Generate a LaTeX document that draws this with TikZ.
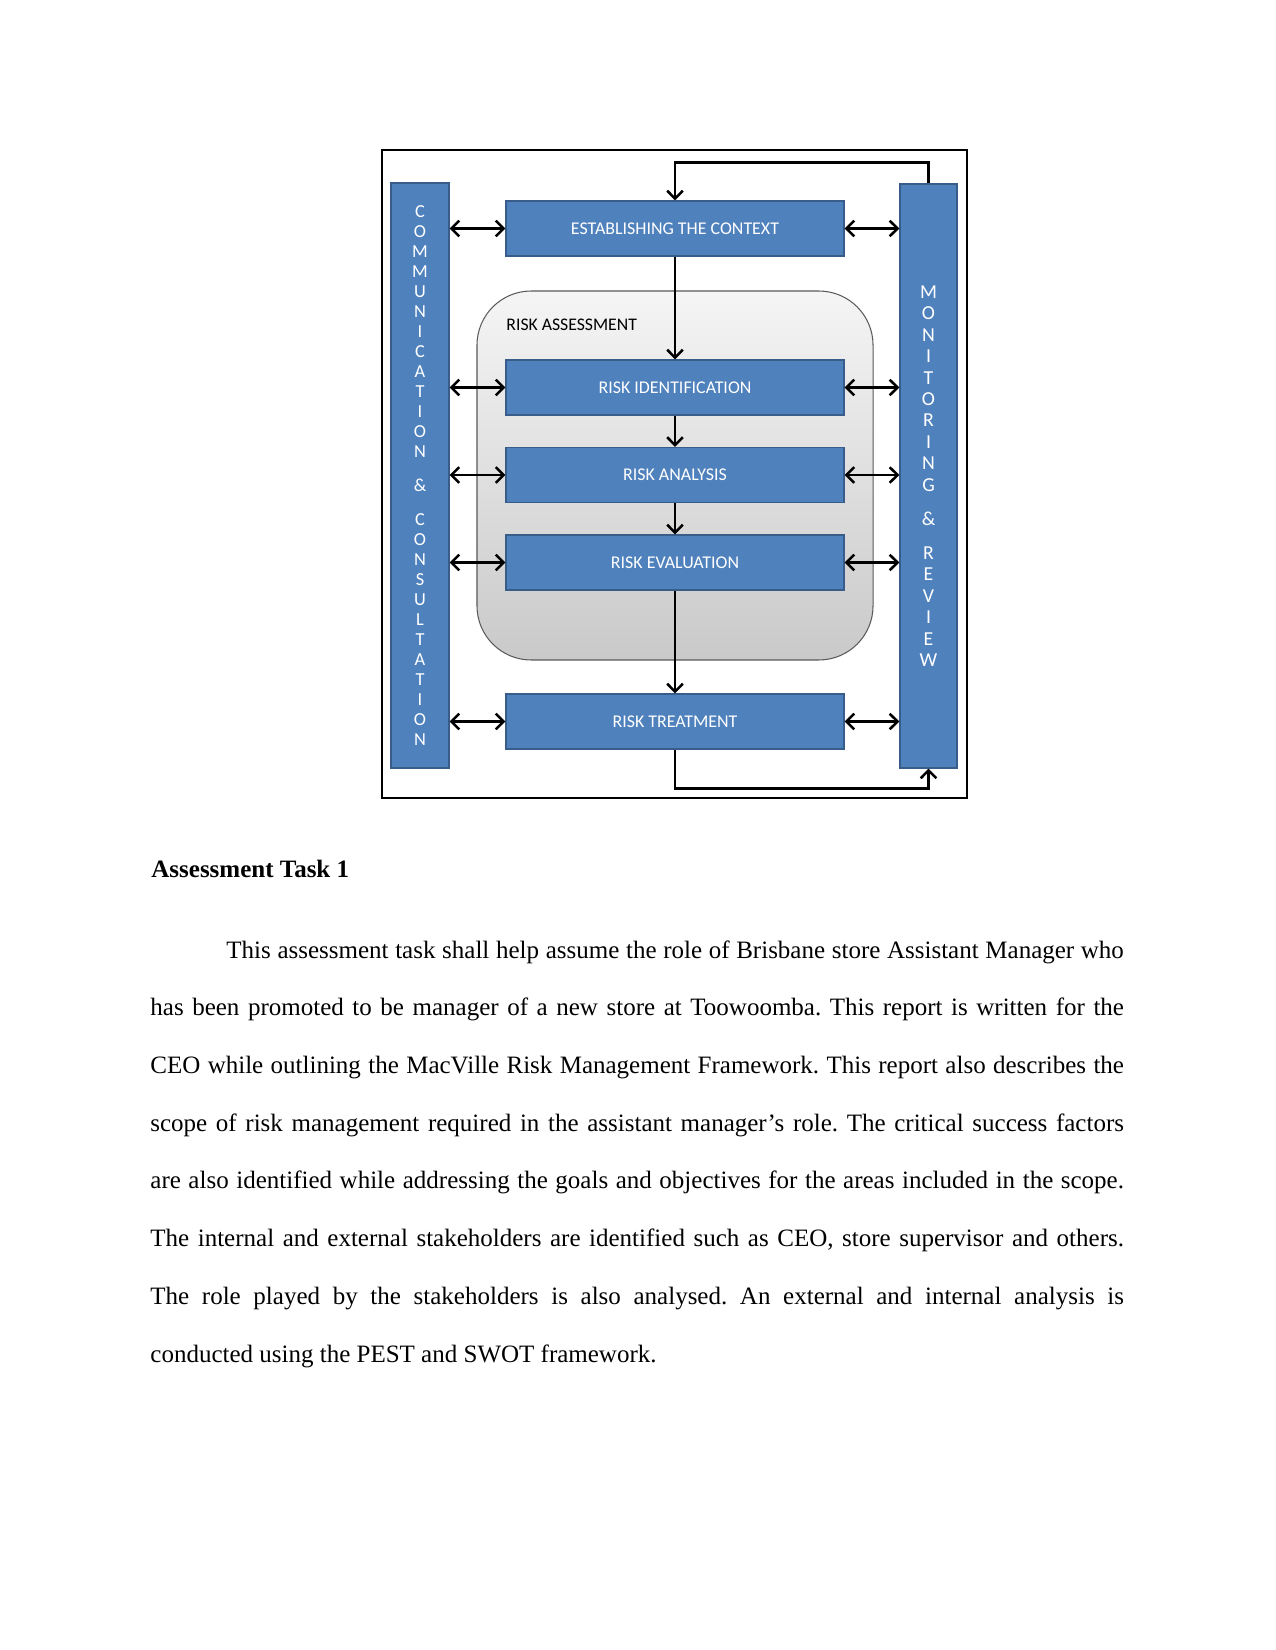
\documentclass[tikz,border=0pt]{standalone}
\usepackage{fontspec}
\setmainfont{Liberation Serif}
\newfontfamily\calib{Carlito}
\usetikzlibrary{arrows.meta}
\definecolor{bfill}{HTML}{4F81BD}
\definecolor{bdraw}{HTML}{385D8A}
\frenchspacing
\begin{document}
\begin{tikzpicture}[x=0.48pt,y=-0.48pt,
  bluebox/.style={draw=bdraw, fill=bfill, line width=0.6pt, text=white,
    font=\calib\fontsize{8.6}{11}\selectfont, minimum width=162.2pt, minimum height=26.4pt, inner sep=0pt},
  bar/.style={draw=bdraw, fill=bfill, line width=0.6pt, text=white, inner sep=0pt, align=center},
  arr/.style={line width=1.2pt, -{Straight Barb[length=3.8pt,width=7.5pt]}},
  dbl/.style={line width=1.2pt, {Straight Barb[length=3.8pt,width=7.5pt]}-{Straight Barb[length=3.8pt,width=7.5pt]}},
  bodyline/.style={anchor=base west, inner sep=0pt, font=\fontsize{12}{14}\selectfont}
]
\useasboundingbox (0,0) rectangle (1275,1650);
\fill[white] (0,0) rectangle (1275,1650);

% frame
\node[draw, line width=0.7pt, minimum width=280.8pt, minimum height=311pt, inner sep=0pt] (frame) at (674.5,474) {};

% risk assessment container
\node[draw=gray!70!black, line width=0.5pt, rounded corners=26pt, top color=gray!8, bottom color=gray!42,
  minimum width=190.1pt, minimum height=177.1pt, inner sep=0pt] (ra) at (675,475.5) {};
\node[anchor=base west, inner sep=0pt, font=\calib\fontsize{8.5}{11}\selectfont] (ralabel) at (506,331) {RISK ASSESSMENT};

% side bars
\node[bar, minimum width=27.8pt, minimum height=280.8pt,
  font=\calib\fontsize{8.8}{9.6}\selectfont] (lb) at (420,475.5)
  {C\\O\\M\\M\\U\\N\\I\\C\\A\\T\\I\\O\\N\\[6.7pt]\&\\[6.7pt]C\\O\\N\\S\\U\\L\\T\\A\\T\\I\\O\\N};
\node[bar, minimum width=27.4pt, minimum height=280.3pt,
  font=\calib\fontsize{9.5}{10.3}\selectfont] (rb) at (928.5,476)
  {M\\O\\N\\I\\T\\O\\R\\I\\N\\G\\[6pt]\&\\[6pt]R\\E\\V\\I\\E\\W};

% process boxes
\node[bluebox] (ctx) at (675,228.5) {ESTABLISHING THE CONTEXT};
\node[bluebox] (rid) at (675,387.5) {RISK IDENTIFICATION};
\node[bluebox] (ran) at (675,475) {RISK ANALYSIS};
\node[bluebox] (rev) at (675,562.5) {RISK EVALUATION};
\node[bluebox] (rt) at (675,721.5) {RISK TREATMENT};

% vertical flow
\draw[arr] (ctx.south) -- (rid.north);
\draw[arr] (rid.south) -- (ran.north);
\draw[arr] (ran.south) -- (rev.north);
\draw[arr] (rev.south) -- (rt.north);

% loops
\draw[arr] (rb.north) -- ++(0,-21) -| (ctx.north);
\draw[arr] (rt.south) -- ++(0,39) -| (rb.south);

% side double arrows
\foreach \b in {ctx,rid,ran,rev,rt}{
  \draw[dbl] (lb.east |- \b.west) -- (\b.west);
  \draw[dbl] (\b.east) -- (rb.west |- \b.east);
}

% text below
\node[anchor=base west, inner sep=0pt, font=\bfseries\fontsize{12}{14}\selectfont] (head) at (151,877) {Assessment Task 1};
\node[bodyline] (l1) at (226,958) {\makebox[430.8pt][s]{This assessment task shall help assume the role of Brisbane store Assistant Manager who}};
\node[bodyline] (l2) at (150,1015.7) {\makebox[467.3pt][s]{has been promoted to be manager of a new store at Toowoomba. This report is written for the}};
\node[bodyline] (l3) at (150,1073.4) {\makebox[467.3pt][s]{CEO while outlining the MacVille Risk Management Framework. This report also describes the}};
\node[bodyline] (l4) at (150,1131.1) {\makebox[467.3pt][s]{scope of risk management required in the assistant manager’s role. The critical success factors}};
\node[bodyline] (l5) at (150,1188.8) {\makebox[467.3pt][s]{are also identified while addressing the goals and objectives for the areas included in the scope.}};
\node[bodyline] (l6) at (150,1246.5) {\makebox[467.3pt][s]{The internal and external stakeholders are identified such as CEO, store supervisor and others.}};
\node[bodyline] (l7) at (150,1304.2) {\makebox[467.3pt][s]{The role played by the stakeholders is also analysed. An external and internal analysis is}};
\node[bodyline] (l8) at (150,1362) {conducted using the PEST and SWOT framework.};
\end{tikzpicture}
\end{document}
